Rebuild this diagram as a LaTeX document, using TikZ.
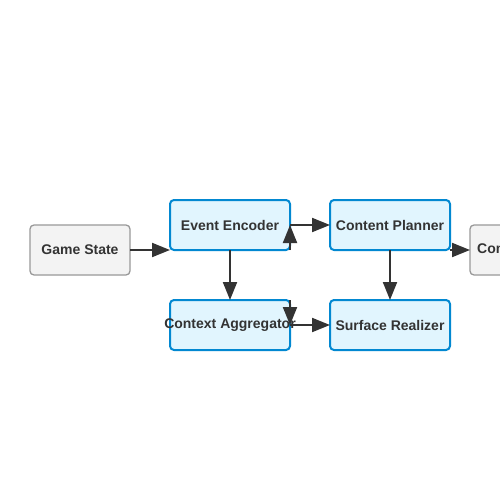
\documentclass[tikz,border=0pt]{standalone}
\usepackage{fontspec}
\setmainfont{Liberation Sans}
\usetikzlibrary{arrows.meta}
\definecolor{bluefill}{HTML}{E1F5FE}
\definecolor{blueline}{HTML}{0288D1}
\definecolor{grayfill}{HTML}{F3F3F3}
\definecolor{grayline}{HTML}{999999}
\definecolor{ink}{HTML}{333333}
\tikzset{
  box/.style={rectangle, rounded corners=4pt, inner sep=0pt, outer sep=0pt,
    font=\fontsize{14}{16}\selectfont\bfseries, text=ink},
  bluebox/.style={box, fill=bluefill, draw=blueline, line width=2pt,
    minimum width=120pt, minimum height=50pt},
  graybox/.style={box, fill=grayfill, draw=grayline, line width=1.3pt,
    minimum width=100pt, minimum height=50pt},
  arr/.style={draw=ink, line width=2pt, -{Triangle[length=18pt,width=14pt]}, fill=ink}
}
\begin{document}
\begin{tikzpicture}[x=1pt,y=-1pt]
\useasboundingbox (0,0) rectangle (500,500);
\clip (0,0) rectangle (500,500);
\fill[white] (0,0) rectangle (500,500);
\node[graybox] (gs) at (80,250) {Game State};
\node[bluebox] (ee) at (230,225) {\makebox[0pt]{Event Encoder}};
\node[bluebox] (cp) at (390,225) {\makebox[0pt]{Content Planner}};
\node[bluebox] (ca) at (230,325) {\makebox[0pt]{Context Aggregator}};
\node[bluebox] (sr) at (390,325) {\makebox[0pt]{Surface Realizer}};
\node[graybox] (co) at (520,250) {Commentary};
\draw[arr] (gs.east) -- (ee.south west);
\draw[arr] (ee.east) -- (cp.west);
\draw[arr] (ee.south) -- (ca.north);
\draw[arr] (cp.south) -- (sr.north);
\draw[arr] (ca.east) -- (sr.west);
\draw[arr] (cp.south east) -- (co.west);
\draw[arr] (ee.south east) -- (ee.east);
\draw[arr] (ca.north east) -- (ca.east);
\end{tikzpicture}
\end{document}
